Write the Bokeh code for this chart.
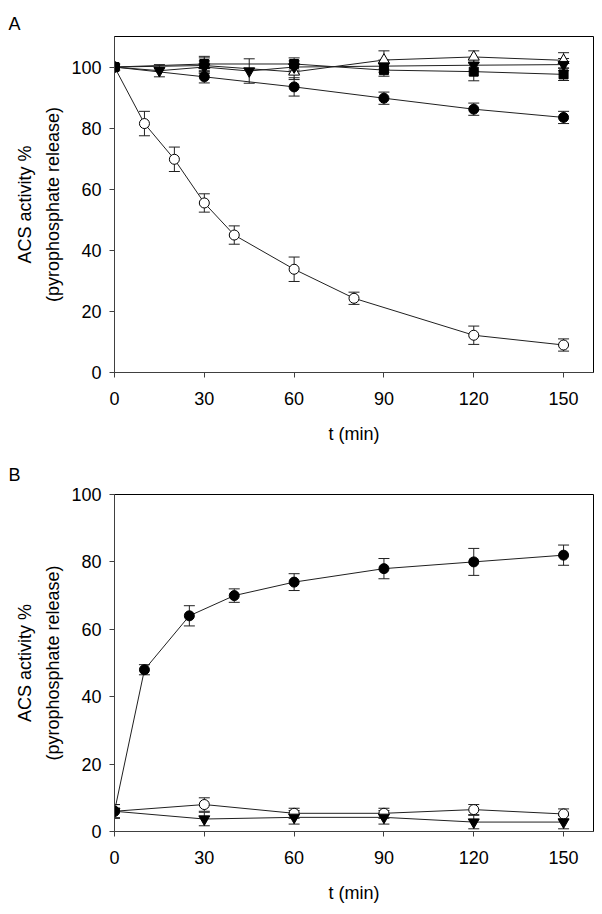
from bokeh.plotting import figure
from bokeh.layouts import column
from bokeh.models import ColumnDataSource, Whisker, TeeHead, FixedTicker, Range1d, Title
from bokeh.embed import file_html
from bokeh.resources import INLINE

FONT = "Liberation Sans"
FS = "18px"

# ---------------- Panel A data ----------------
a_t_open_circle = [0, 10, 20, 30, 40, 60, 80, 120, 150]
a_open_circle = [100, 81.5, 69.8, 55.5, 45, 33.8, 24.3, 12.2, 9]
a_open_circle_err = [0, 4, 4, 3, 3, 4, 2, 3, 2]

a_t_main = [0, 30, 60, 90, 120, 150]
a_filled_circle = [100, 96.8, 93.5, 89.8, 86.2, 83.5]
a_filled_circle_err = [0, 2, 3, 2, 2, 2]
a_filled_square = [100, 101, 101, 99, 98.5, 97.6]
a_filled_square_err = [0, 2.5, 2, 2, 3, 2]
a_open_triangle = [100, 100.5, 98.4, 102.3, 103.3, 102.2]
a_open_triangle_err = [0, 2.5, 2.5, 3, 2, 2.5]

a_t_tri_down = [0, 15, 30, 45, 60, 90, 120, 150]
a_tri_down = [100, 98.8, 100, 98.7, 100, 100.3, 100.6, 100.8]
a_tri_down_err = [0, 2, 2, 4, 2, 2, 2, 2]

# ---------------- Panel B data ----------------
b_t_filled = [0, 10, 25, 40, 60, 90, 120, 150]
b_filled_circle = [6, 48, 64, 70, 74, 78, 80, 82]
b_filled_circle_err = [2, 1.5, 3, 2, 2.5, 3, 4, 3]
b_t = [0, 30, 60, 90, 120, 150]
b_open_circle = [6, 8, 5.4, 5.4, 6.5, 5.2]
b_open_circle_err = [2, 2, 1.5, 1.5, 1.5, 1.5]
b_tri_down = [6, 3.7, 4.2, 4.2, 2.8, 2.8]
b_tri_down_err = [2, 2, 2, 2, 2, 2]

x_ticks = [0, 30, 60, 90, 120, 150]
y_ticks = [0, 20, 40, 60, 80, 100]


def make_fig(height, y_end, top, bottom, letter, letter_standoff):
    p = figure(width=596, height=height, output_backend="svg", toolbar_location=None,
               x_range=Range1d(0, 160), y_range=Range1d(0, y_end),
               min_border_left=114, min_border_right=3,
               min_border_top=top, min_border_bottom=bottom)
    p.xgrid.visible = False
    p.ygrid.visible = False
    p.outline_line_color = "black"
    p.outline_line_alpha = 1
    p.background_fill_color = "white"
    p.border_fill_color = "white"
    for ax in (p.xaxis[0], p.yaxis[0]):
        ax.axis_line_color = "#404040"
        ax.major_tick_line_color = "#404040"
        ax.minor_tick_line_color = None
        ax.major_tick_in = 0
        ax.major_tick_out = 5
        ax.major_label_text_font = FONT
        ax.major_label_text_font_size = FS
        ax.major_label_text_color = "black"
        ax.axis_label_text_font = FONT
        ax.axis_label_text_font_size = FS
        ax.axis_label_text_font_style = "normal"
        ax.axis_label_text_color = "black"
    p.xaxis.ticker = FixedTicker(ticks=x_ticks)
    p.yaxis.ticker = FixedTicker(ticks=y_ticks)
    p.xaxis.axis_label = "t (min)"
    p.xaxis.major_label_standoff = 14
    p.xaxis.axis_label_standoff = 16
    p.yaxis.major_label_standoff = 8
    p.add_layout(Title(text="(pyrophosphate release)", align="center", text_font=FONT,
                       text_font_size=FS, text_font_style="normal", text_color="black",
                       standoff=12), "left")
    p.add_layout(Title(text="ACS activity %", align="center", text_font=FONT,
                       text_font_size=FS, text_font_style="normal", text_color="black",
                       standoff=0), "left")
    p.add_layout(Title(text=letter, align="left", offset=-106, text_font=FONT,
                       text_font_size=FS, text_font_style="normal", text_color="black",
                       standoff=letter_standoff), "above")
    return p


def add_series(p, t, y, err, marker, fill, size=10):
    src = ColumnDataSource(dict(t=t, y=y))
    p.line("t", "y", source=src, line_color="#202020", line_width=1)
    et = [a for a, e in zip(t, err) if e > 0]
    up = [b + e for b, e in zip(y, err) if e > 0]
    lo = [b - e for b, e in zip(y, err) if e > 0]
    wsrc = ColumnDataSource(dict(t=et, upper=up, lower=lo))
    w = Whisker(base="t", upper="upper", lower="lower", source=wsrc, line_color="#202020",
                line_width=1,
                upper_head=TeeHead(size=11, line_color="#202020", line_width=1),
                lower_head=TeeHead(size=11, line_color="#202020", line_width=1))
    p.add_layout(w)
    return src, marker, fill, size


def draw_markers(p, items):
    for src, marker, fill, size in items:
        p.scatter("t", "y", source=src, marker=marker, size=size, fill_color=fill,
                  line_color="black", line_width=1)


# ---------------- Panel A ----------------
pa = make_fig(448, 110, 36, 76, "A", 5)
items_a = [
    add_series(pa, a_t_open_circle, a_open_circle, a_open_circle_err, "circle", "white"),
    add_series(pa, a_t_main, a_open_triangle, a_open_triangle_err, "triangle", "white", 11),
    add_series(pa, a_t_main, a_filled_circle, a_filled_circle_err, "circle", "black"),
    add_series(pa, a_t_tri_down, a_tri_down, a_tri_down_err, "inverted_triangle", "black", 11),
    add_series(pa, a_t_main, a_filled_square, a_filled_square_err, "square", "black", 9),
]
draw_markers(pa, items_a)

# ---------------- Panel B ----------------
pb = make_fig(458, 100, 46, 75, "B", 19)
items_b = [
    add_series(pb, b_t, b_open_circle, b_open_circle_err, "circle", "white"),
    add_series(pb, b_t, b_tri_down, b_tri_down_err, "inverted_triangle", "black", 11),
    add_series(pb, b_t_filled, b_filled_circle, b_filled_circle_err, "circle", "black"),
]
draw_markers(pb, items_b)

layout = column(pa, pb, spacing=0)
open("out.html", "w").write(file_html(layout, INLINE))
